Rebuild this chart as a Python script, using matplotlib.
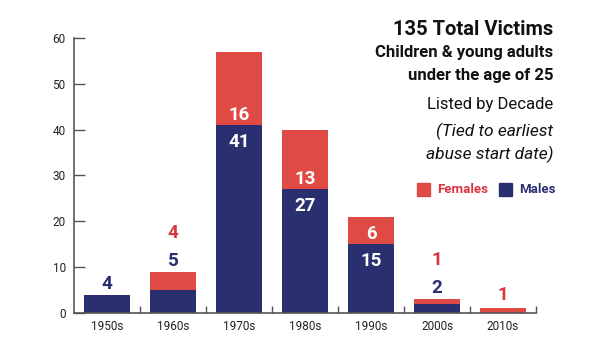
import matplotlib
matplotlib.use("Agg")
import matplotlib.pyplot as plt
import numpy as np

decades = ["1950s", "1960s", "1970s", "1980s", "1990s", "2000s", "2010s"]
males = [4, 5, 41, 27, 15, 2, 0]
females = [0, 4, 16, 13, 6, 1, 1]
yticks = [0, 10, 20, 30, 40, 50, 60]

NAVY = "#2a2f6f"
RED = "#df4a45"
RED_TXT = "#d93440"
FONT = "Roboto"

plt.rcParams["font.family"] = [FONT, "DejaVu Sans"]

fig = plt.figure(figsize=(6.0, 3.38), dpi=100)
ax = fig.add_axes([74/600, 25/338, (536-74)/600, (313-38)/338])

x = np.arange(len(decades))
w = 0.71
ax.bar(x, males, width=w, color=NAVY, zorder=2)
ax.bar(x, females, width=w, bottom=males, color=RED, zorder=2)

ax.set_xlim(-0.5, len(decades) - 0.5)
ax.set_ylim(0, 60)

for s in ["top", "right"]:
    ax.spines[s].set_visible(False)
for s in ["left", "bottom"]:
    ax.spines[s].set_color("#555555")
    ax.spines[s].set_linewidth(1.2)

ax.set_yticks(yticks)
ax.set_yticklabels([str(v) for v in yticks], fontsize=8.5, color="#222222")
ax.tick_params(axis="y", direction="in", length=8, width=1, color="#555555", pad=6)

ax.set_xticks(x)
ax.set_xticklabels(decades, fontsize=8.5, color="#222222")
ax.tick_params(axis="x", which="major", length=0, pad=5)
ax.set_xticks(np.arange(0.5, len(decades), 1.0), minor=True)
ax.tick_params(axis="x", which="minor", direction="in", length=5, width=1, color="#555555")

px = 0.72  # pixels -> points
for i, (m, f) in enumerate(zip(males, females)):
    total = m + f
    if m >= 10:
        ax.annotate(str(f), (i, m), xytext=(0, 10*px), textcoords="offset points",
                    ha="center", va="center", color="white", fontsize=13.5, fontweight="bold")
        ax.annotate(str(m), (i, m), xytext=(0, -17*px), textcoords="offset points",
                    ha="center", va="center", color="white", fontsize=13.5, fontweight="bold")
    else:
        base = 11
        if m > 0:
            ax.annotate(str(m), (i, total), xytext=(0, base*px), textcoords="offset points",
                        ha="center", va="center", color=NAVY, fontsize=13.5, fontweight="bold")
            base += 26
        if f > 0:
            ax.annotate(str(f), (i, total), xytext=(0, (base + 2)*px), textcoords="offset points",
                        ha="center", va="center", color=RED_TXT, fontsize=13.5, fontweight="bold")

xr = 553/600
def ty(p):
    return 1 - p/338

fig.text(xr, ty(35), "135 Total Victims", ha="right", va="baseline", fontsize=14.5,
         fontweight="bold", color="#111111")
fig.text(xr, ty(57), "Children & young adults", ha="right", va="baseline", fontsize=12,
         fontweight="bold", color="#111111")
fig.text(xr, ty(80), "under the age of 25", ha="right", va="baseline", fontsize=12,
         fontweight="bold", color="#111111")
fig.text(xr, ty(109), "Listed by Decade", ha="right", va="baseline", fontsize=12, color="#111111")
fig.text(xr, ty(136), "(Tied to earliest", ha="right", va="baseline", fontsize=12.5,
         style="italic", color="#111111")
fig.text(xr, ty(159), "abuse start date)", ha="right", va="baseline", fontsize=12.5,
         style="italic", color="#111111")

# legend
from matplotlib.patches import Rectangle
for (x0, col, lab, tx) in [(417, RED, "Females", 437), (499, NAVY, "Males", 519)]:
    fig.patches.append(Rectangle((x0/600, ty(196)), 13/600, 13/338, transform=fig.transFigure,
                                 color=col, figure=fig))
    fig.text(tx/600, ty(189.5), lab, ha="left", va="center", fontsize=9.5,
             fontweight="bold", color=(RED_TXT if col == RED else NAVY))

fig.savefig("out.png", dpi=100)
